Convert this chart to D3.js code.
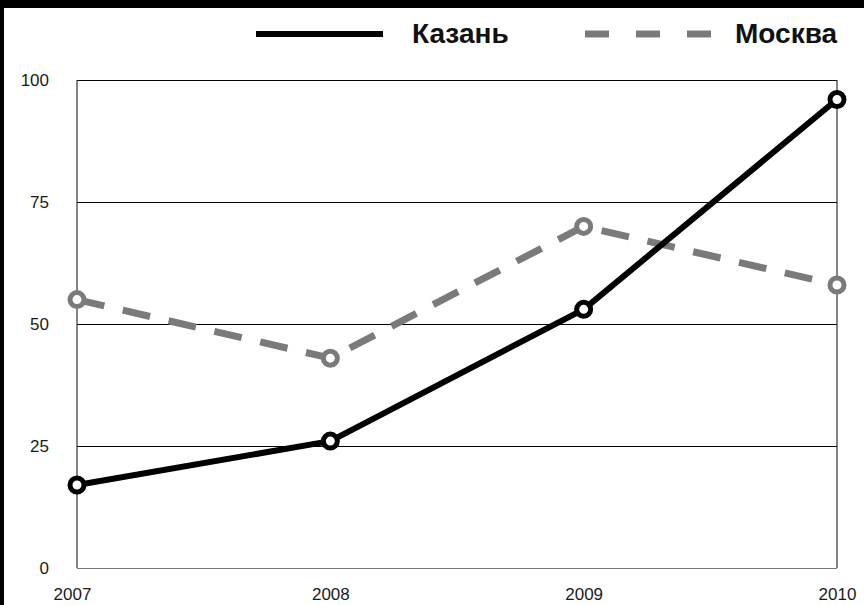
<!DOCTYPE html>
<html>
<head>
<meta charset="utf-8">
<script src="https://cdn.jsdelivr.net/npm/d3@7"></script>
<style>
  html, body { margin: 0; padding: 0; background: #000; }
  svg { display: block; }
</style>
</head>
<body>
<svg id="chart" width="864" height="605"></svg>
<script>
const years = ["2007", "2008", "2009", "2010"];
const kazan = [17, 26, 53, 96];
const moscow = [55, 43, 70, 58];
const yTicks = [0, 25, 50, 75, 100];
const seriesNames = ["Казань", "Москва"];

(function () {
const W = 864, H = 605;
const svg = d3.select("#chart");

svg.append("rect").attr("x", 4).attr("y", 8).attr("width", W - 4).attr("height", H - 8).attr("fill", "#fff");

const pLeft = 77, pRight = 837, pTop = 80, pBottom = 568;
const x = d3.scalePoint().domain(years).range([pLeft, pRight]);
const y = d3.scaleLinear().domain([0, 100]).range([pBottom, pTop]);

const yAxis = d3.axisLeft(y).tickValues(yTicks).tickSize(-(pRight - pLeft)).tickPadding(28);
const gy = svg.append("g").attr("transform", `translate(${pLeft},0)`).call(yAxis);
gy.select(".domain").remove();
gy.selectAll(".tick line").attr("stroke", d => d === 0 ? "#777" : "#000").attr("stroke-width", 1.2);
gy.selectAll(".tick text").attr("font-family", "Liberation Sans, Arial, sans-serif")
  .attr("font-size", 17).attr("fill", "#1a1a1a");

svg.append("line").attr("x1", pLeft).attr("x2", pLeft).attr("y1", pTop).attr("y2", pBottom).attr("stroke", "#333").attr("stroke-width", 1.2);
svg.append("line").attr("x1", pRight).attr("x2", pRight).attr("y1", pTop).attr("y2", pBottom).attr("stroke", "#333").attr("stroke-width", 1.2);

const xAxis = d3.axisBottom(x).tickSize(0).tickPadding(20);
const gx = svg.append("g").attr("transform", `translate(0,${pBottom})`).call(xAxis);
gx.select(".domain").remove();
gx.selectAll(".tick text").attr("font-family", "Liberation Sans, Arial, sans-serif")
  .attr("font-size", 17).attr("fill", "#1a1a1a")
  .attr("dx", (d, i) => i === 0 ? -5 : 0);

const line = d3.line().x((d, i) => x(years[i])).y(d => y(d));

svg.append("path").datum(moscow).attr("d", line).attr("fill", "none")
  .attr("stroke", "#7a7a7a").attr("stroke-width", 7).attr("stroke-dasharray", "28,19");
svg.selectAll("circle.m").data(moscow).enter().append("circle").attr("class", "m")
  .attr("cx", (d, i) => x(years[i])).attr("cy", d => y(d)).attr("r", 7)
  .attr("fill", "#fff").attr("stroke", "#7a7a7a").attr("stroke-width", 5);

svg.append("path").datum(kazan).attr("d", line).attr("fill", "none")
  .attr("stroke", "#000").attr("stroke-width", 6).attr("stroke-linejoin", "round");
svg.selectAll("circle.k").data(kazan).enter().append("circle").attr("class", "k")
  .attr("cx", (d, i) => x(years[i])).attr("cy", d => y(d)).attr("r", 7)
  .attr("fill", "#fff").attr("stroke", "#000").attr("stroke-width", 5);

svg.append("line").attr("x1", 256).attr("x2", 383).attr("y1", 34).attr("y2", 34)
  .attr("stroke", "#000").attr("stroke-width", 6);
svg.append("text").attr("x", 412).attr("y", 43).text(seriesNames[0])
  .attr("font-family", "Liberation Sans, Arial, sans-serif").attr("font-weight", "bold")
  .attr("font-size", 28).attr("fill", "#111");
svg.append("line").attr("x1", 585).attr("x2", 711).attr("y1", 34).attr("y2", 34)
  .attr("stroke", "#7a7a7a").attr("stroke-width", 7).attr("stroke-dasharray", "24,27");
svg.append("text").attr("x", 735).attr("y", 43).text(seriesNames[1])
  .attr("font-family", "Liberation Sans, Arial, sans-serif").attr("font-weight", "bold")
  .attr("font-size", 28).attr("fill", "#111");
})();
</script>
</body>
</html>
